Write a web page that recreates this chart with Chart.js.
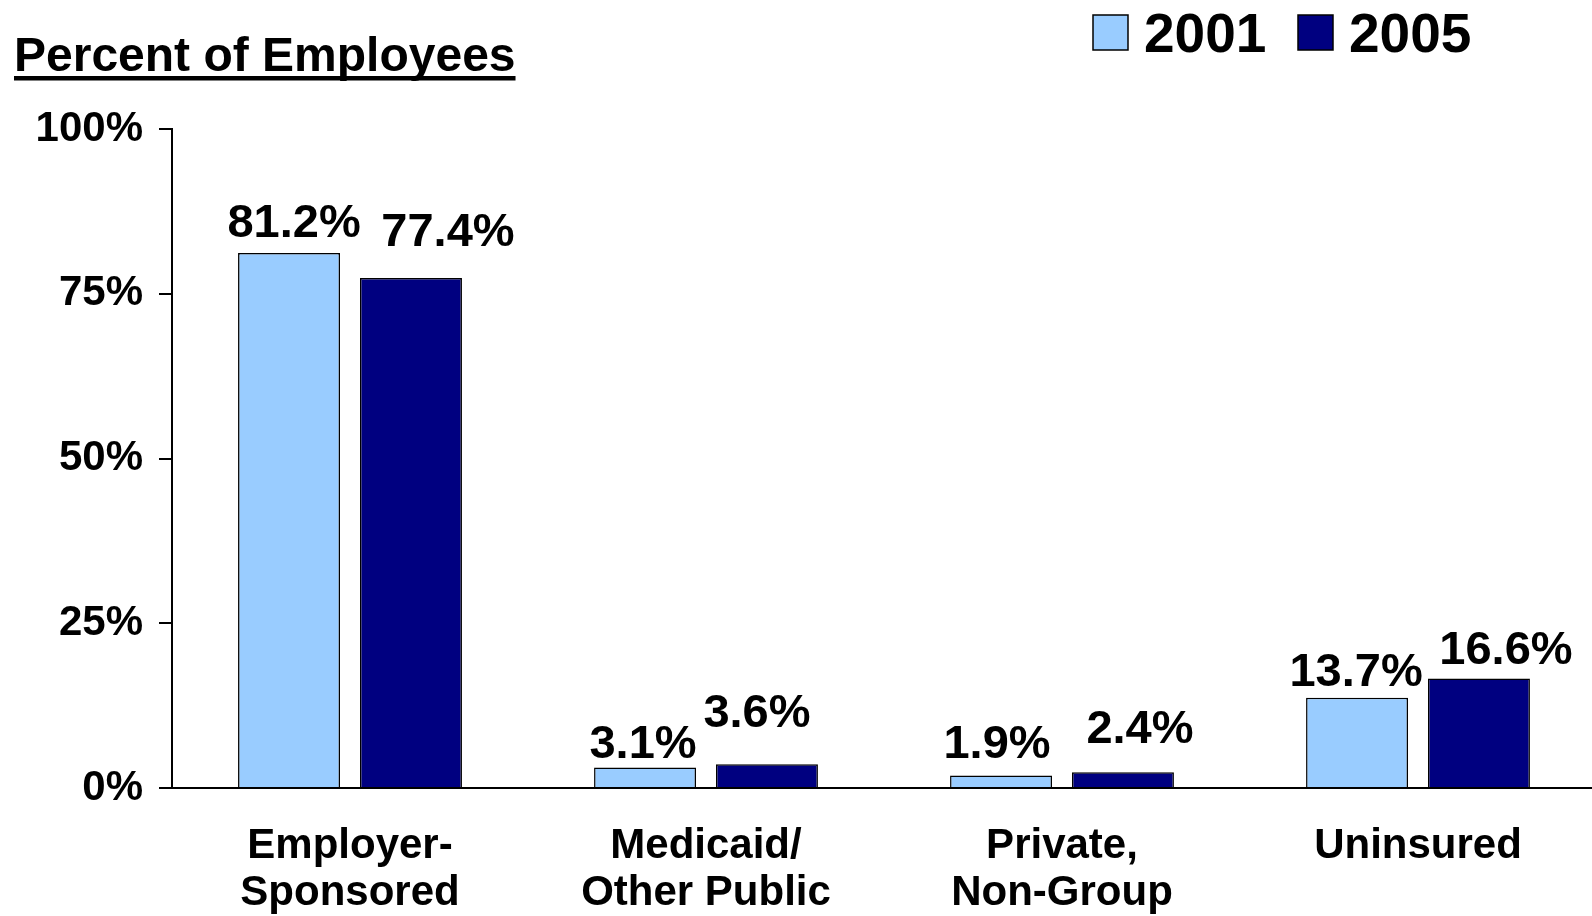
<!DOCTYPE html>
<html>
<head>
<meta charset="utf-8">
<script src="https://cdn.jsdelivr.net/npm/chart.js@4"></script>
<style>
  html, body { margin: 0; padding: 0; background: #fff; overflow: hidden; }
  #clip { width: 1592px; height: 916px; overflow: hidden; position: relative; }
  #wrap { width: 1596px; height: 916px; position: absolute; left: 0; top: 0; }
</style>
</head>
<body>
<div id="clip"><div id="wrap"><canvas id="c"></canvas></div></div>
<script>
// ---- data ----
const categories = [["Employer-", "Sponsored"], ["Medicaid/", "Other Public"], ["Private,", "Non-Group"], ["Uninsured"]];
const seriesNames = ["2001", "2005"];
const values2001 = [81.2, 3.1, 1.9, 13.7];
const values2005 = [77.4, 3.6, 2.4, 16.6];
const yTicks = [0, 25, 50, 75, 100];
const titleText = "Percent of Employees";

// ---- styles ----
const FONT = "'Liberation Sans', Arial, Helvetica, sans-serif";
const colors = ["#99CCFF", "#000080"];
// label nudges (dx, gap above bar top to baseline), as placed in the original
const labelNudge = [
  [[5, 16], [-2, 10], [-4, 17], [-1, 12]],
  [[37, 32], [-10, 37], [17, 29], [27, 15]]
];

const overlayPlugin = {
  id: 'overlay',
  afterDatasetsDraw(chart) {
    const ctx = chart.ctx;
    ctx.save();
    ctx.fillStyle = '#000';
    ctx.font = "bold 47px " + FONT;
    ctx.textAlign = 'center';
    ctx.textBaseline = 'alphabetic';
    chart.data.datasets.forEach((ds, di) => {
      const meta = chart.getDatasetMeta(di);
      meta.data.forEach((bar, i) => {
        const n = labelNudge[di][i];
        ctx.fillText(ds.data[i].toFixed(1) + '%', bar.x + n[0], bar.y - n[1]);
      });
    });
    ctx.restore();
  },
  afterDraw(chart) {
    const ctx = chart.ctx;
    ctx.save();
    // title with underline
    ctx.fillStyle = '#000';
    ctx.font = "bold 48px " + FONT;
    ctx.textAlign = 'left';
    ctx.textBaseline = 'alphabetic';
    ctx.fillText(titleText, 14, 71);
    const w = ctx.measureText(titleText).width;
    ctx.fillRect(14, 76, w, 4.5);
    // legend
    const boxX = [1093, 1298];
    ctx.font = "bold 55px " + FONT;
    chart.data.datasets.forEach((ds, di) => {
      ctx.fillStyle = ds.backgroundColor;
      ctx.fillRect(boxX[di], 15, 35, 35);
      ctx.lineWidth = 1.5;
      ctx.strokeStyle = '#000';
      ctx.strokeRect(boxX[di], 15, 35, 35);
      ctx.fillStyle = '#000';
      ctx.fillText(ds.label, boxX[di] + 51, 52);
    });
    ctx.restore();
  }
};

new Chart(document.getElementById('c'), {
  type: 'bar',
  data: {
    labels: categories,
    datasets: [
      { label: seriesNames[0], data: values2001, backgroundColor: colors[0], borderColor: '#000', borderWidth: 1.5,
        barPercentage: 0.836, categoryPercentage: 0.685 },
      { label: seriesNames[1], data: values2005, backgroundColor: colors[1], borderColor: '#000', borderWidth: 1.5,
        barPercentage: 0.836, categoryPercentage: 0.685 }
    ]
  },
  plugins: [overlayPlugin],
  options: {
    responsive: true,
    maintainAspectRatio: false,
    animation: false,
    layout: { padding: { top: 129, left: 0, right: 0, bottom: 0 } },
    plugins: { legend: { display: false }, title: { display: false }, tooltip: { enabled: false } },
    scales: {
      x: {
        grid: { display: false, drawTicks: false },
        border: { display: true, color: '#000', width: 2 },
        ticks: { color: '#000', font: { family: FONT, size: 42, weight: 'bold', lineHeight: 1.14 }, padding: 34, maxRotation: 0, autoSkip: false },
        afterFit: (s) => { s.height = 128; }
      },
      y: {
        min: 0, max: 100,
        afterBuildTicks: (s) => { s.ticks = yTicks.map(v => ({ value: v })); },
        grid: { drawOnChartArea: false, drawTicks: true, tickLength: 13, color: '#000', lineWidth: 2 },
        border: { display: true, color: '#000', width: 2 },
        ticks: { color: '#000', font: { family: FONT, size: 42, weight: 'bold' }, padding: 16, callback: (v) => v + '%' },
        afterFit: (s) => { s.width = 172; }
      }
    }
  }
});
</script>
</body>
</html>
